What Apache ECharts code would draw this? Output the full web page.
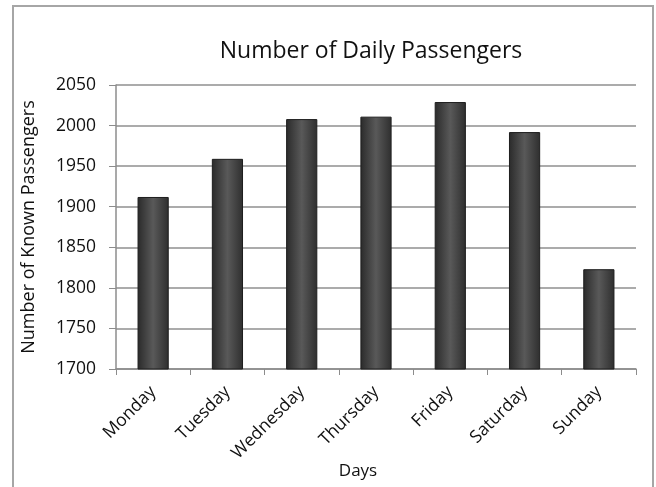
<!DOCTYPE html>
<html>
<head>
<meta charset="utf-8">
<script src="https://cdn.jsdelivr.net/npm/echarts@6/dist/echarts.min.js"></script>
<style>
  html, body { margin: 0; padding: 0; background: #fff; }
  #main { width: 656px; height: 487px; }
</style>
</head>
<body>
<div id="main"></div>
<script>
const days = ['Monday', 'Tuesday', 'Wednesday', 'Thursday', 'Friday', 'Saturday', 'Sunday']
const passengers = [1912, 1959, 2008, 2011, 2029, 1992, 1823]
const yMin = 1700
const yMax = 2050
const yStep = 50

const font = 'Open Sans'
const chart = echarts.init(document.getElementById('main'))

const barFill = new echarts.graphic.LinearGradient(0, 0, 1, 0, [
  { offset: 0, color: '#2a2a2a' },
  { offset: 0.5, color: '#595959' },
  { offset: 1, color: '#2e2e2e' },
])

const option = {
  animation: false,
  textStyle: { fontFamily: font },
  title: {
    text: 'Number of Daily Passengers',
    left: 366,
    top: 35,
    textAlign: 'center',
    textStyle: { fontFamily: font, fontSize: 23, fontWeight: 'normal', color: '#111' },
  },
  graphic: [
    {
      type: 'rect',
      shape: { x: 13, y: 6, width: 640, height: 500 },
      style: { fill: 'none', stroke: '#a6a6a6', lineWidth: 2 },
      silent: true,
    },
  ],
  grid: { left: 116, right: 20, top: 85, bottom: 118, outerBoundsMode: 'none', containLabel: false },
  xAxis: {
    type: 'category',
    data: days,
    name: 'Days',
    nameLocation: 'middle',
    nameGap: 94,
    nameMoveOverlap: false,
    nameTextStyle: { fontSize: 17, color: '#111', padding: [0, 36, 0, 0] },
    axisLine: { lineStyle: { color: '#8c8c8c', width: 1.5 } },
    axisTick: { show: true, length: 6, lineStyle: { color: '#8c8c8c' } },
    axisLabel: { rotate: 45, fontSize: 17.5, color: '#111', margin: 20 },
  },
  yAxis: {
    type: 'value',
    min: yMin,
    max: yMax,
    interval: yStep,
    name: 'Number of Known Passengers',
    nameLocation: 'middle',
    nameGap: 78,
    nameMoveOverlap: false,
    nameTextStyle: { fontSize: 18, color: '#111' },
    axisLine: { show: true, lineStyle: { color: '#8c8c8c', width: 1.5 } },
    axisTick: { show: true, length: 7, lineStyle: { color: '#8c8c8c' } },
    axisLabel: { fontSize: 17.5, color: '#111', margin: 20, formatter: (v) => String(v) },
    splitLine: { lineStyle: { color: '#8f8f8f', width: 1.5 } },
  },
  series: [
    {
      type: 'bar',
      data: passengers,
      barWidth: '42%',
      itemStyle: { color: barFill, borderColor: '#1e1e1e', borderWidth: 1 },
    },
  ],
}
chart.setOption(option)
</script>
</body>
</html>
